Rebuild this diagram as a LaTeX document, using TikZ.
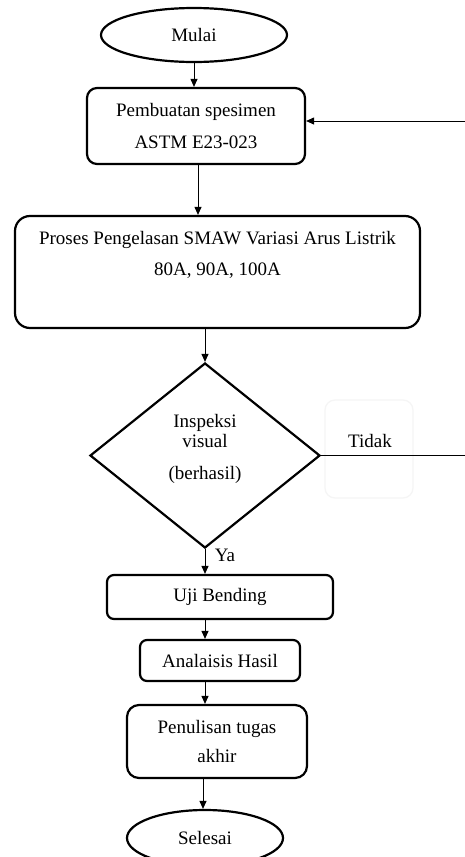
\documentclass[tikz,border=0pt]{standalone}
\usepackage{fontspec}
\setmainfont{Liberation Serif}
\usetikzlibrary{arrows.meta,shapes.geometric}
\tikzset{
  base/.style={draw=black, line width=2.2pt, align=center, inner sep=0pt, font=\fontsize{19}{31}\selectfont},
  rbox/.style={base, rectangle, rounded corners=#1},
  oval/.style={base, ellipse},
  dia/.style={base, diamond},
  txt/.style={align=center, inner sep=0pt, font=\fontsize{19}{31}\selectfont},
  arr/.style={line width=1pt, -{Triangle[length=8pt,width=7pt]}},
  ln/.style={line width=1pt},
  faint/.style={draw=black!4, line width=1.2pt, rounded corners=10pt, rectangle}
}
\begin{document}
\begin{tikzpicture}[x=1pt,y=-1pt]
\useasboundingbox (0,0) rectangle (465,857);
\clip (0,0) rectangle (465,857);
\fill[white] (0,0) rectangle (465,857);

\node[faint, minimum width=88pt, minimum height=98pt] (tb) at (369,449) {};

\node[oval, minimum width=186pt, minimum height=54pt] (m) at (194,35) {Mulai};
\node[rbox=10pt, minimum width=218pt, minimum height=76pt, font=\fontsize{19}{32}\selectfont] (b1) at (196,126) {Pembuatan spesimen\\ASTM E23-023};
\node[rbox=15pt, minimum width=405pt, minimum height=112pt] (b2) at (217.5,272) {};
\node[txt] (b2t) at (217.5,255) {Proses Pengelasan SMAW Variasi Arus Listrik\\80A, 90A, 100A};
\node[dia, minimum width=230pt, minimum height=185pt] (d) at (205,455.5) {};
\node[txt, font=\fontsize{19}{32}\selectfont] (dt) at (205,449) {Inspeksi\\[-12pt]visual\\(berhasil)};
\node[rbox=7pt, minimum width=226pt, minimum height=44pt] (ub) at (220,597) {Uji Bending};
\node[rbox=7pt, minimum width=160pt, minimum height=41pt] (ah) at (220,660.5) {Analaisis Hasil};
\node[rbox=12pt, minimum width=180pt, minimum height=73pt, font=\fontsize{19}{29}\selectfont] (pt) at (217,741.5) {Penulisan tugas\\akhir};
\node[oval, minimum width=156pt, minimum height=56pt] (s) at (205,838) {Selesai};

\node[txt] (tidak) at (370,441) {Tidak};
\node[txt] (ya) at (225,555) {Ya};

\coordinate (r1) at (465,455.5);
\coordinate (r2) at (465,121);

\draw[arr] (m.south) -- (m.south |- b1.north);
\draw[arr] ([xshift=2pt]b1.south) -- ([xshift=2pt]b1.south |- b2.north);
\draw[arr] (b2.south -| d.north) -- (d.north);
\draw[arr] (d.south) -- (d.south |- ub.north);
\draw[arr] (ub.south -| d.south) -- (ah.north -| d.south);
\draw[arr] (ah.south -| d.south) -- (pt.north -| d.south);
\draw[arr] ([xshift=-2pt]pt.south -| s.north) -- ([xshift=-2pt]s.north);
\draw[ln] (d.east) -- (r1);
\draw[arr] (r2) -- (r2 -| b1.east);
\end{tikzpicture}
\end{document}
